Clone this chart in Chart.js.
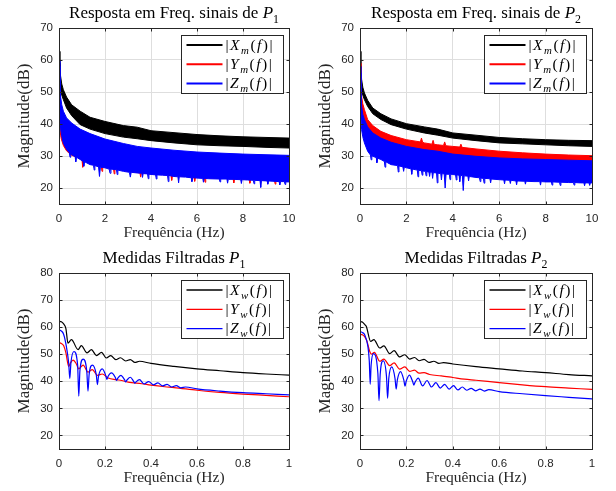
<!DOCTYPE html>
<html>
<head>
<meta charset="utf-8">
<script src="https://cdn.jsdelivr.net/npm/chart.js@4.4.1/dist/chart.umd.min.js"></script>
<style>
  html, body { margin: 0; padding: 0; background: #fff; }
  #fig { position: relative; width: 616px; height: 491px; overflow: hidden; }
  #fig canvas { position: absolute; }
</style>
</head>
<body>
<div id="fig">
  <canvas id="tl" width="308" height="245" style="left:0;top:0"></canvas>
  <canvas id="tr" width="308" height="245" style="left:308px;top:0"></canvas>
  <canvas id="bl" width="308" height="246" style="left:0;top:245px"></canvas>
  <canvas id="br" width="308" height="246" style="left:308px;top:245px"></canvas>
</div>
<script>
// Espectros dos sinais medidos (bandas: envoltorias superior/inferior lidas da figura)
// e medidas filtradas (linhas com ondulacao)

// ---- P1, espectro bruto (Hz, dB) ----
const fBand1 = [0.01, 0.04, 0.07, 0.12, 0.19, 0.33, 0.55, 0.92, 1.35, 2, 2.8, 3.4, 4, 5, 6, 7, 8, 9, 10];
const xm1Up = [62.7, 57.0, 54.9, 52.5, 50.7, 48.4, 46.0, 44.0, 42.1, 40.8, 39.5, 39.0, 37.9, 37.3, 36.7, 36.3, 36.0, 35.8, 35.6];
const xm1Lo = [59.0, 52.0, 50.7, 49.0, 47.6, 45.0, 42.6, 39.8, 38.4, 37.0, 35.9, 35.4, 34.8, 34.1, 33.5, 33.2, 33.0, 32.7, 32.5];
const ym1Up = [49.0, 47.0, 45.5, 44.0, 42.5, 40.8, 39.3, 37.6, 36.3, 34.6, 33.2, 32.4, 31.8, 31.1, 30.6, 30.2, 29.9, 29.7, 29.5];
const zm1Up = [60.0, 51.0, 48.5, 46.0, 44.0, 41.9, 40.3, 38.4, 37.0, 35.3, 33.9, 33.0, 32.5, 31.8, 31.25, 30.9, 30.6, 30.4, 30.2];
const fYm1Lo = [0.01, 0.03, 0.07, 0.1, 0.19, 0.33, 0.55, 0.8,
                1.0, 1.03, 1.06, 1.5,
                1.84, 1.87, 1.9, 2.0,
                2.37, 2.4, 2.43, 3.0,
                3.52, 3.55, 3.58, 4.0, 4.5,
                4.87, 4.9, 4.93, 5.5,
                5.87, 5.9, 5.93, 6.0,
                6.32, 6.35, 6.38, 7.0,
                7.57, 7.6, 7.63, 8.0,
                8.27, 8.3, 8.33, 9.0,
                9.37, 9.4, 9.43, 10];
const ym1Lo = [46.0, 40.0, 36.5, 35.3, 33.3, 31.6, 30.2, 29.6,
               28.8, 26.5, 28.8, 27.3,
               26.7, 25.2, 26.6, 26.5,
               26.1, 24.4, 26.0, 25.2,
               24.7, 23.4, 24.7, 24.4, 24.2,
               23.9, 22.4, 23.9, 23.6,
               23.3, 22.1, 23.3, 23.3,
               23.2, 21.8, 23.2, 23.0,
               22.9, 21.6, 22.9, 22.8,
               22.7, 21.5, 22.7, 22.4,
               22.3, 21.2, 22.3, 22.1];
const fZm1Lo = [0.01, 0.04, 0.07, 0.12, 0.19, 0.33,
                0.45, 0.48, 0.51, 0.55,
                0.7, 0.73, 0.76, 0.92,
                1.05, 1.08, 1.11, 1.35,
                1.5, 1.53, 1.56,
                1.72, 1.76, 1.8, 2.0,
                2.18, 2.22, 2.26,
                2.5, 2.53, 2.56, 2.8,
                3.06, 3.1, 3.14, 3.4,
                3.6, 3.63, 3.66,
                3.85, 3.88, 3.91,
                4.2, 4.23, 4.26, 4.5,
                4.72, 4.75, 4.78, 5.0,
                5.17, 5.2, 5.23, 5.5,
                5.75, 5.78, 5.81, 6.0,
                6.25, 6.28, 6.31, 6.5,
                6.97, 7.0, 7.03,
                7.3, 7.33, 7.36, 7.6,
                7.9, 7.93, 7.96, 8.2,
                8.45, 8.48, 8.51,
                8.74, 8.77, 8.8,
                9.05, 9.08, 9.11, 9.3,
                9.57, 9.6, 9.63,
                9.8, 9.83, 9.86, 10];
const zm1Lo = [58.0, 41.0, 38.5, 36.1, 34.0, 32.0,
               31.0, 29.6, 30.7, 30.4,
               29.8, 28.2, 29.6, 28.9,
               28.3, 26.8, 28.2, 27.3,
               27.1, 25.6, 27.0,
               26.6, 23.6, 26.5, 26.3,
               25.9, 24.6, 25.9,
               25.7, 24.2, 25.6, 25.2,
               24.9, 23.4, 24.9, 24.7,
               24.6, 23.3, 24.5,
               24.4, 22.9, 24.3,
               24.1, 22.8, 24.1, 24.0,
               23.9, 22.0, 23.9, 23.6,
               23.5, 21.6, 23.5, 23.4,
               23.2, 22.0, 23.2, 23.1,
               23.0, 21.8, 23.0, 22.9,
               22.8, 21.9, 22.8,
               22.8, 21.5, 22.7, 22.7,
               22.6, 21.4, 22.6, 22.5,
               22.4, 21.3, 22.4,
               22.3, 20.2, 22.3,
               22.2, 21.2, 22.2, 22.1,
               22.0, 21.0, 22.0,
               22.0, 21.1, 21.9, 21.9];

// ---- P2, espectro bruto ----
const fBand2 = [0.01, 0.04, 0.07, 0.12, 0.19, 0.33, 0.55, 0.9, 1.34, 2, 2.77, 3.35, 4, 5, 6, 7, 8, 9, 10];
const xm2Up = [62.7, 57.0, 53.9, 51.5, 49.7, 47.4, 45.0, 43.2, 41.6, 40.1, 39.1, 38.4, 37.2, 36.5, 35.8, 35.4, 35.1, 34.9, 34.8];
const xm2Lo = [58.0, 52.5, 50.7, 49.0, 47.6, 45.5, 43.2, 41.4, 39.8, 38.4, 37.2, 36.5, 35.6, 34.8, 34.1, 33.8, 33.5, 33.2, 33.0];
const ym2Lo = [55.0, 47.0, 44.0, 41.0, 40.5, 38.5, 36.7, 35.0, 33.8, 32.5, 31.5, 31.0, 29.9, 29.3, 28.9, 28.6, 28.3, 28.0, 27.8];
const zm2Up = [58.0, 50.0, 45.5, 43.0, 41.4, 39.1, 37.2, 35.6, 34.3, 33.0, 32.0, 31.5, 30.6, 29.9, 29.4, 29.1, 28.9, 28.7, 28.5];
const fYm2Up = [0.01, 0.04, 0.07, 0.12, 0.19, 0.33, 0.55, 0.9, 1.34, 2, 2.6, 2.65, 2.7, 2.77, 3.1, 3.15, 3.2, 3.35, 3.6, 3.65, 3.7,
                4, 4.3, 4.35, 4.4, 5, 6, 7, 8, 9, 10];
const ym2Up = [59.0, 52.0, 48.6, 46.3, 44.5, 41.4, 39.5, 37.7, 36.4, 35.1, 34.4, 35.6, 34.3, 34.1, 33.7, 34.9, 33.6, 33.5, 33.3, 34.4, 33.2,
               33.0, 32.8, 33.7, 32.7, 32.2, 31.5, 31.0, 30.6, 30.3, 30.1];
const fZm2Lo = [0.01, 0.04, 0.07, 0.12, 0.19, 0.33,
                0.45, 0.48, 0.51, 0.55,
                0.7, 0.73, 0.76, 0.9,
                1.05, 1.08, 1.11, 1.34,
                1.62, 1.65, 1.68,
                1.85, 1.88, 1.91, 2.0,
                2.2, 2.23, 2.26,
                2.47, 2.5, 2.53,
                2.65, 2.68, 2.71,
                2.82, 2.85, 2.88,
                2.97, 3.0, 3.03,
                3.1, 3.13, 3.16,
                3.3, 3.33, 3.36,
                3.48, 3.51, 3.54,
                3.63, 3.67, 3.71,
                3.85, 3.88, 3.91, 4.0,
                4.12, 4.15, 4.18,
                4.27, 4.3, 4.33,
                4.41, 4.45, 4.49,
                4.65, 4.68, 4.71, 5.0,
                5.15, 5.18, 5.21,
                5.32, 5.35, 5.38,
                5.6, 5.63, 5.66, 6.0,
                6.2, 6.23, 6.26,
                6.45, 6.48, 6.51,
                6.72, 6.75, 6.78,
                7.1, 7.13, 7.16, 7.5,
                7.75, 7.78, 7.81, 8.0,
                8.25, 8.28, 8.31,
                8.6, 8.63, 8.66, 9.0,
                9.2, 9.23, 9.26, 9.5,
                9.65, 9.68, 9.71,
                9.87, 9.9, 9.93, 10];
const zm2Lo = [56.0, 42.0, 38.2, 36.0, 34.1, 31.5,
               30.3, 28.8, 30.1, 29.9,
               29.5, 27.9, 29.3, 28.9,
               28.3, 26.5, 28.2, 27.3,
               27.0, 25.0, 26.9,
               26.6, 25.2, 26.5, 26.3,
               26.0, 24.3, 25.9,
               25.6, 23.5, 25.5,
               25.4, 24.0, 25.3,
               25.2, 23.8, 25.1,
               25.0, 23.6, 25.0,
               24.9, 23.0, 24.8,
               24.7, 21.6, 24.6,
               24.5, 22.5, 24.5,
               24.4, 20.0, 24.3,
               24.3, 22.6, 24.3, 24.2,
               24.1, 22.5, 24.1,
               24.0, 22.0, 23.9,
               23.9, 19.2, 23.8,
               23.7, 22.2, 23.6, 23.3,
               23.2, 22.0, 23.1,
               23.0, 21.5, 23.0,
               22.9, 21.6, 22.8, 22.6,
               22.5, 21.3, 22.5,
               22.4, 21.4, 22.4,
               22.2, 21.0, 22.2,
               22.1, 21.2, 22.1, 22.0,
               22.0, 20.9, 22.0, 21.9,
               21.9, 20.9, 21.9,
               21.8, 20.8, 21.8, 21.7,
               21.7, 20.9, 21.7, 21.6,
               21.6, 20.7, 21.6,
               21.6, 20.8, 21.6, 21.6];

// ---- P1, medidas filtradas ----
const fXw1 = [0, 0.01, 0.02, 0.03, 0.039, 0.054, 0.083, 0.097, 0.122, 0.141, 0.163, 0.185, 0.206, 0.225, 0.247, 0.267,
              0.29, 0.31, 0.33, 0.35, 0.4, 0.5, 0.6, 0.7, 0.8, 0.9, 1.0];
const xw1 = [62.2, 62.0, 61.2, 59.5, 54.1, 55.4, 51.7, 53.2, 50.5, 51.7, 49.5, 50.7, 48.6, 49.5, 48.0, 48.7,
             47.5, 48.0, 47.0, 47.4, 46.6, 45.5, 44.6, 43.9, 43.2, 42.7, 42.3];
const fYw1 = [0, 0.01, 0.02, 0.03, 0.042, 0.05, 0.061, 0.075, 0.086, 0.105, 0.126, 0.145, 0.167, 0.188, 0.214, 0.25, 0.272,
              0.3, 0.36, 0.4, 0.46, 0.5, 0.6, 0.7, 0.8, 0.9, 1.0];
const yw1 = [54.3, 54.0, 53.2, 50.5, 45.5, 46.8, 47.8, 46.5, 44.6, 46.0, 43.4, 44.3, 42.2, 42.7, 41.2, 40.6, 40.3,
             39.7, 39.1, 38.6, 38.0, 37.7, 36.7, 35.9, 35.3, 34.8, 34.3];
const fZw1 = [0, 0.01, 0.02, 0.032, 0.042, 0.047, 0.052, 0.065, 0.081, 0.086, 0.091, 0.105, 0.121, 0.126, 0.131, 0.145,
              0.162, 0.167, 0.172, 0.188, 0.203, 0.208, 0.213, 0.228, 0.245, 0.25, 0.255, 0.269, 0.285, 0.29, 0.295, 0.31,
              0.325, 0.33, 0.335, 0.35, 0.37, 0.39, 0.41, 0.43, 0.45, 0.47, 0.49, 0.51, 0.53, 0.55, 0.6, 0.7, 0.8, 0.9, 1.0];
const zw1 = [59.0, 58.6, 57.4, 52.9, 46.8, 41.1, 47.0, 51.0, 46.0, 34.5, 44.0, 48.2, 43.5, 36.4, 42.5, 46.0,
             42.5, 38.8, 42.0, 44.6, 42.2, 40.7, 41.8, 43.1, 41.4, 40.3, 41.1, 42.2, 40.6, 39.8, 40.4, 41.5,
             39.9, 39.3, 39.8, 40.6, 39.0, 39.9, 38.7, 39.4, 38.3, 38.9, 37.9, 38.4, 37.6, 37.9, 37.2, 36.4, 35.8, 35.4, 35.0];

// ---- P2, medidas filtradas ----
const fXw2 = [0, 0.01, 0.02, 0.027, 0.046, 0.06, 0.085, 0.103, 0.128, 0.147, 0.171, 0.193, 0.214, 0.235, 0.255, 0.276,
              0.297, 0.318, 0.34, 0.36, 0.4, 0.5, 0.6, 0.7, 0.8, 0.9, 1.0];
const xw2 = [62.1, 61.9, 61.0, 60.3, 54.7, 55.4, 52.3, 53.1, 50.2, 51.3, 49.0, 49.8, 48.2, 48.8, 47.6, 48.1,
             47.0, 47.4, 46.6, 46.9, 46.4, 45.4, 44.6, 43.8, 43.2, 42.5, 42.0];
const fYw2 = [0, 0.01, 0.02, 0.03, 0.042, 0.05, 0.062, 0.085, 0.103, 0.128, 0.147, 0.171, 0.193, 0.214, 0.235, 0.255, 0.276,
              0.3, 0.35, 0.4, 0.45, 0.5, 0.6, 0.7, 0.8, 0.9, 1.0];
const yw2 = [57.4, 57.2, 56.5, 54.8, 51.0, 50.0, 50.7, 47.4, 48.2, 45.8, 46.8, 44.5, 45.3, 43.7, 44.1, 43.0, 43.2,
             42.5, 42.0, 41.4, 40.8, 40.4, 39.5, 38.7, 38.0, 37.5, 37.0];
const fZw2 = [0, 0.01, 0.02, 0.034, 0.04, 0.044, 0.048, 0.058, 0.077, 0.082, 0.087, 0.1, 0.114, 0.119, 0.124, 0.137,
              0.151, 0.156, 0.161, 0.175, 0.189, 0.194, 0.199, 0.213, 0.227, 0.232, 0.237, 0.251, 0.27, 0.289, 0.308,
              0.327, 0.346, 0.365, 0.384, 0.403, 0.422, 0.441, 0.46, 0.479, 0.498, 0.517, 0.536, 0.555, 0.6, 0.7, 0.8, 0.9, 1.0];
const zw2 = [58.4, 58.0, 57.2, 52.9, 47.5, 38.9, 46.0, 50.2, 43.0, 32.8, 42.5, 47.6, 42.0, 33.7, 41.0, 45.3,
             41.0, 37.1, 40.5, 43.6, 40.4, 38.2, 40.0, 42.3, 39.9, 38.6, 39.6, 41.2, 38.3, 40.3, 37.9,
             39.5, 37.5, 38.9, 37.1, 38.4, 36.8, 37.9, 36.7, 37.4, 36.5, 37.1, 36.4, 36.9, 36.2, 35.4, 34.7, 34.1, 33.5];

const xTicksRaw = [0, 2, 4, 6, 8, 10];
const xTicksFilt = [0, 0.2, 0.4, 0.6, 0.8, 1];
const yTicksRaw = [20, 30, 40, 50, 60, 70];
const yTicksFilt = [20, 30, 40, 50, 60, 70, 80];

const AXIS = '#262626';
const GRID = '#dedede';
const BLACK = '#000000', RED = '#ff0000', BLUE = '#0000ff';
const SERIF = '"Liberation Serif", serif';

function pts(fs, vs) { return fs.map((f, i) => ({ x: f, y: vs[i] })); }

// lower edge, then upper edge filled down to it
function band(fLo, lo, fUp, up, color) {
  return [
    { data: pts(fLo, lo), borderColor: color, borderWidth: 1, fill: false },
    { data: pts(fUp, up), borderColor: color, borderWidth: 1, backgroundColor: color, fill: '-1' }
  ];
}

function line(fs, vs, color) {
  return { data: pts(fs, vs), borderColor: color, borderWidth: 1.2, fill: false, cubicInterpolationMode: 'monotone' };
}

// text with italic / subscript pieces, like the LaTeX labels
function drawRich(ctx, parts, x, y, size, align, gap) {
  const fontOf = p => (p.it ? 'italic ' : '') + (p.sub ? size * 0.7 : size) + 'px ' + SERIF;
  gap = gap || 0;
  let w = 0;
  parts.forEach(p => { ctx.font = fontOf(p); w += ctx.measureText(p.t).width + gap; });
  w -= gap;
  let cx = align === 'center' ? x - w / 2 : x;
  ctx.textAlign = 'left';
  ctx.textBaseline = 'alphabetic';
  parts.forEach(p => {
    ctx.font = fontOf(p);
    ctx.fillText(p.t, cx, p.sub ? y + size * 0.28 : y);
    cx += ctx.measureText(p.t).width + gap;
  });
}

function lab(letter, sub) {
  return [{ t: '|' }, { t: letter, it: 1 }, { t: sub, it: 1, sub: 1 }, { t: '(' }, { t: 'f', it: 1 }, { t: ')' }, { t: '|' }];
}

function decorFor(cfg) {
  return {
    id: 'decor',
    afterDraw(chart) {
      const { ctx, chartArea: a, scales: { x, y } } = chart;
      const L = Math.round(a.left) + 0.5, R = Math.round(a.right) + 0.5;
      const T = Math.round(a.top) + 0.5, B = Math.round(a.bottom) + 0.5;
      ctx.save();
      ctx.strokeStyle = AXIS;
      ctx.lineWidth = 1;
      ctx.beginPath();
      x.ticks.forEach(t => {
        const p = Math.round(x.getPixelForValue(t.value)) + 0.5;
        ctx.moveTo(p, B); ctx.lineTo(p, B - 3);
        ctx.moveTo(p, T); ctx.lineTo(p, T + 3);
      });
      y.ticks.forEach(t => {
        const p = Math.round(y.getPixelForValue(t.value)) + 0.5;
        ctx.moveTo(L, p); ctx.lineTo(L + 3, p);
        ctx.moveTo(R, p); ctx.lineTo(R - 3, p);
      });
      ctx.stroke();
      ctx.strokeRect(L, T, R - L, B - T);

      // title
      ctx.fillStyle = '#000';
      drawRich(ctx, cfg.title, (a.left + a.right) / 2, a.top - 10, 17, 'center');

      // axis labels
      ctx.fillStyle = AXIS;
      ctx.font = '15.5px ' + SERIF;
      ctx.textAlign = 'center';
      ctx.textBaseline = 'alphabetic';
      ctx.fillText('Frequência (Hz)', (a.left + a.right) / 2, a.bottom + 33);
      ctx.save();
      ctx.translate(a.left - 34, (a.top + a.bottom) / 2);
      ctx.rotate(-Math.PI / 2);
      ctx.font = '17px ' + SERIF;
      ctx.textBaseline = 'middle';
      ctx.fillText('Magnitude(dB)', 0, 0);
      ctx.restore();

      // legend
      const bw = 102, bh = 58;
      const bx = Math.round(a.right - 6 - bw) + 0.5, by = Math.round(a.top + 7) + 0.5;
      ctx.fillStyle = '#fff';
      ctx.fillRect(bx, by, bw, bh);
      ctx.strokeStyle = AXIS;
      ctx.lineWidth = 1;
      ctx.strokeRect(bx, by, bw, bh);
      cfg.legend.forEach((e, i) => {
        const cy = by + 9.5 + i * 19.3;
        ctx.strokeStyle = e.color;
        ctx.lineWidth = cfg.legendLW;
        ctx.beginPath();
        ctx.moveTo(bx + 5, cy);
        ctx.lineTo(bx + 41, cy);
        ctx.stroke();
        ctx.fillStyle = '#000';
        drawRich(ctx, e.parts, bx + 44, cy + 4.5, 15.5, 'left', 1.5);
      });
      ctx.restore();
    }
  };
}

function makeChart(id, cfg) {
  const tickFont = { family: '"Liberation Sans", Arial, sans-serif', size: 11.5 };
  return new Chart(document.getElementById(id), {
    type: 'line',
    data: { datasets: cfg.datasets },
    options: {
      responsive: false,
      animation: false,
      events: [],
      layout: { padding: { top: 28, right: cfg.padRight, left: 0, bottom: 0 } },
      elements: { point: { radius: 0 }, line: { tension: 0 } },
      scales: {
        x: {
          type: 'linear', min: 0, max: cfg.xMax,
          afterFit: s => { s.height = cfg.xH; },
          afterBuildTicks: s => { s.ticks = cfg.xTicks.map(v => ({ value: v })); },
          grid: { color: GRID, lineWidth: 1, drawTicks: false },
          border: { display: false },
          ticks: { padding: 8, color: AXIS, font: tickFont, maxRotation: 0, autoSkip: false, callback: v => String(v) }
        },
        y: {
          type: 'linear', min: cfg.yMin, max: cfg.yMax,
          afterFit: s => { s.width = cfg.yW; },
          afterBuildTicks: s => { s.ticks = cfg.yTicks.map(v => ({ value: v })); },
          grid: { color: GRID, lineWidth: 1, drawTicks: false },
          border: { display: false },
          ticks: { padding: 6, color: AXIS, font: tickFont, autoSkip: false, callback: v => String(v) }
        }
      },
      plugins: { legend: { display: false }, tooltip: { enabled: false }, title: { display: false } }
    },
    plugins: [decorFor(cfg)]
  });
}

const rawLegend = [
  { color: BLACK, parts: lab('X', 'm') },
  { color: RED, parts: lab('Y', 'm') },
  { color: BLUE, parts: lab('Z', 'm') }
];
const filtLegend = [
  { color: BLACK, parts: lab('X', 'w') },
  { color: RED, parts: lab('Y', 'w') },
  { color: BLUE, parts: lab('Z', 'w') }
];

makeChart('tl', {
  datasets: [
    ...band(fZm1Lo, zm1Lo, fBand1, zm1Up, BLUE),
    ...band(fYm1Lo, ym1Lo, fBand1, ym1Up, RED),
    ...band(fBand1, xm1Lo, fBand1, xm1Up, BLACK)
  ],
  xMax: 10, xTicks: xTicksRaw, yMin: 15, yMax: 70, yTicks: yTicksRaw,
  yW: 59, padRight: 19, xH: 41,
  title: [{ t: 'Resposta em Freq. sinais de ' }, { t: 'P', it: 1 }, { t: '1', sub: 1 }],
  legend: rawLegend, legendLW: 2
});

makeChart('tr', {
  datasets: [
    ...band(fZm2Lo, zm2Lo, fBand2, zm2Up, BLUE),
    ...band(fBand2, ym2Lo, fYm2Up, ym2Up, RED),
    ...band(fBand2, xm2Lo, fBand2, xm2Up, BLACK)
  ],
  xMax: 10, xTicks: xTicksRaw, yMin: 15, yMax: 70, yTicks: yTicksRaw,
  yW: 52, padRight: 24, xH: 41,
  title: [{ t: 'Resposta em Freq. sinais de ' }, { t: 'P', it: 1 }, { t: '2', sub: 1 }],
  legend: rawLegend, legendLW: 2
});

makeChart('bl', {
  datasets: [line(fZw1, zw1, BLUE), line(fYw1, yw1, RED), line(fXw1, xw1, BLACK)],
  xMax: 1, xTicks: xTicksFilt, yMin: 15, yMax: 80, yTicks: yTicksFilt,
  yW: 59, padRight: 19, xH: 42,
  title: [{ t: 'Medidas Filtradas ' }, { t: 'P', it: 1 }, { t: '1', sub: 1 }],
  legend: filtLegend, legendLW: 1.3
});

makeChart('br', {
  datasets: [line(fZw2, zw2, BLUE), line(fYw2, yw2, RED), line(fXw2, xw2, BLACK)],
  xMax: 1, xTicks: xTicksFilt, yMin: 15, yMax: 80, yTicks: yTicksFilt,
  yW: 52, padRight: 24, xH: 42,
  title: [{ t: 'Medidas Filtradas ' }, { t: 'P', it: 1 }, { t: '2', sub: 1 }],
  legend: filtLegend, legendLW: 1.3
});
</script>
</body>
</html>
